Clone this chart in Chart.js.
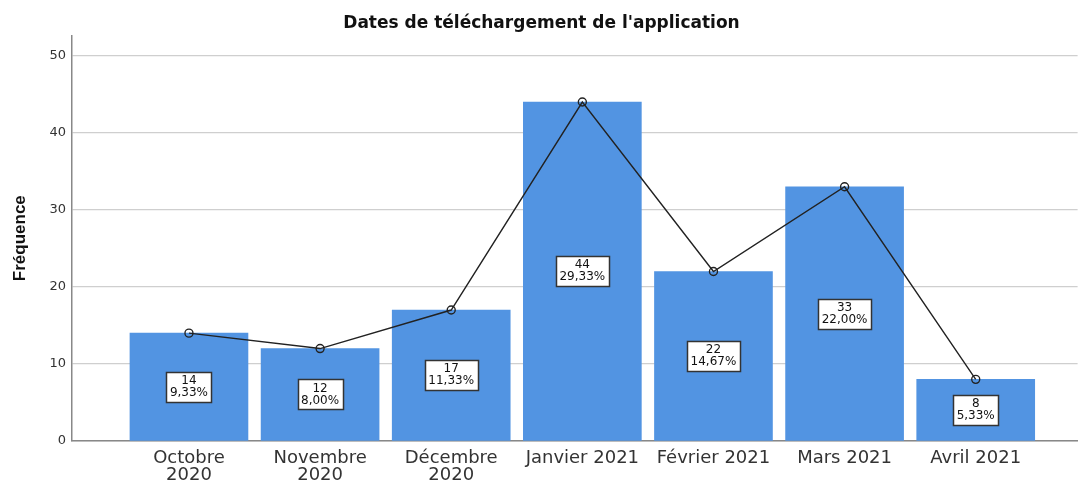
<!DOCTYPE html>
<html>
<head>
<meta charset="utf-8">
<script src="https://cdn.jsdelivr.net/npm/chart.js@4/dist/chart.umd.min.js"></script>
<style>
html,body{margin:0;padding:0;background:#fff;}
#wrap{width:1083px;height:481px;position:relative;}
</style>
</head>
<body>
<div id="wrap"><canvas id="c" width="1083" height="481"></canvas></div>
<script>
const categories = [["Octobre","2020"],["Novembre","2020"],["Décembre","2020"],"Janvier 2021","Février 2021","Mars 2021","Avril 2021"];
const counts = [14, 12, 17, 44, 22, 33, 8];
const percents = ["9,33%", "8,00%", "11,33%", "29,33%", "14,67%", "22,00%", "5,33%"];
const yTicks = [0, 10, 20, 30, 40, 50];

const points = counts.map((v, i) => ({x: i, y: v}));
const FONT = '"DejaVu Sans", Verdana, sans-serif';

const boxLabels = {
  id: 'boxLabels',
  afterDatasetsDraw(chart) {
    const ctx = chart.ctx;
    const meta = chart.getDatasetMeta(0);
    ctx.save();
    ctx.font = '12px ' + FONT;
    ctx.textAlign = 'center';
    ctx.textBaseline = 'middle';
    meta.data.forEach((bar, i) => {
      const cx = bar.x;
      const cy = (bar.y + bar.base) / 2;
      const l1 = String(counts[i]);
      const l2 = percents[i];
      const w = Math.max(ctx.measureText(l1).width, ctx.measureText(l2).width) + 7;
      const h = 30;
      const bx = Math.round(cx - w / 2) + 0.5, by = Math.round(cy - h / 2) + 0.5;
      ctx.fillStyle = '#fff';
      ctx.fillRect(bx, by, Math.round(w), h);
      ctx.strokeStyle = '#333';
      ctx.lineWidth = 1.5;
      ctx.strokeRect(bx, by, Math.round(w), h);
      ctx.fillStyle = '#111';
      ctx.fillText(l1, cx, cy - 6);
      ctx.fillText(l2, cx, cy + 6);
    });
    ctx.restore();
  }
};

new Chart(document.getElementById('c'), {
  data: {
    datasets: [
      {
        type: 'bar',
        data: points,
        backgroundColor: '#5294E2',
        borderWidth: 0,
        barThickness: 118,
        order: 2
      },
      {
        type: 'line',
        data: points,
        borderColor: '#222',
        borderWidth: 1.4,
        pointRadius: 4,
        pointStyle: 'circle',
        pointBackgroundColor: 'rgba(0,0,0,0)',
        pointBorderColor: '#222',
        pointBorderWidth: 1.4,
        tension: 0,
        order: 1
      }
    ]
  },
  options: {
    responsive: false,
    animation: false,
    layout: {padding: {left: 0, right: 0, top: 0, bottom: 0}},
    plugins: {
      legend: {display: false},
      tooltip: {enabled: false},
      title: {
        display: true,
        text: "Dates de téléchargement de l'application",
        color: '#111',
        font: {family: FONT, size: 17, weight: 'bold'},
        padding: {top: 13, bottom: 2}
      }
    },
    scales: {
      x: {
        type: 'linear',
        offset: false,
        min: -0.892,
        max: 6.777,
        afterBuildTicks(scale) { scale.ticks = categories.map((c, i) => ({value: i})); },
        afterFit(scale) { scale.height = 40; },
        ticks: {
          autoSkip: false,
          maxRotation: 0,
          padding: 9,
          color: '#333',
          font: {family: FONT, size: 18, lineHeight: 0.92},
          callback: (v) => categories[v]
        },
        grid: {display: false, drawTicks: false},
        border: {display: true, color: '#888', width: 1.5}
      },
      y: {
        type: 'linear',
        min: 0,
        max: 52.65,
        afterBuildTicks(scale) { scale.ticks = yTicks.map(v => ({value: v})); },
        afterFit(scale) { scale.width = 72; },
        ticks: {
          padding: 6,
          color: '#333',
          font: {family: FONT, size: 13}
        },
        grid: {color: '#cfcfcf', lineWidth: 1.2, drawTicks: false},
        border: {display: true, color: '#888', width: 1.5},
        title: {
          display: true,
          text: 'Fréquence',
          color: '#111',
          font: {family: '"Liberation Sans Narrow", "Liberation Sans", Arial, sans-serif', size: 17, weight: 'bold'},
          padding: {top: 10, bottom: 0}
        }
      }
    }
  },
  plugins: [boxLabels]
});
</script>
</body>
</html>
